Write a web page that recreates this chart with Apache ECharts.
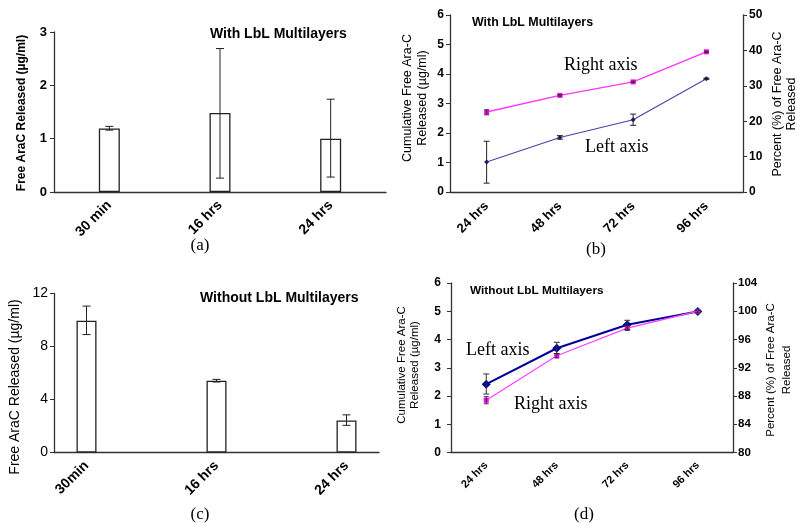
<!DOCTYPE html>
<html>
<head>
<meta charset="utf-8">
<script src="https://cdn.jsdelivr.net/npm/echarts@6/dist/echarts.min.js"></script>
<style>html,body{margin:0;padding:0;background:#fff;}#c{width:797px;height:523px;}</style>
</head>
<body>
<div id="c"></div>
<script>
// ---- Data ----
// Panel (a): with LbL multilayers, free AraC released
var catsA = ['30 min', '16 hrs', '24 hrs'];
var valsA = [1.19, 1.48, 1.00];
var lowA  = [1.16, 0.26, 0.28];
var highA = [1.23, 2.69, 1.74];

// Panel (b): with LbL multilayers, cumulative
var catsB = ['24 hrs', '48 hrs', '72 hrs', '96 hrs'];
var leftB = [1.02, 1.85, 2.45, 3.84];
var leftLowB = [0.30, 1.79, 2.26, 3.82];
var leftHighB = [1.72, 1.91, 2.64, 3.86];
var rightB = [22.6, 27.3, 31.1, 39.6];
var rightLowB = [21.8, 27.1, 30.9, 39.4];
var rightHighB = [23.2, 27.5, 31.3, 39.8];

// Panel (c): without LbL multilayers, free AraC released
var catsC = ['30min', '16 hrs', '24 hrs'];
var valsC = [9.95, 5.42, 2.41];
var lowC  = [8.90, 5.32, 2.05];
var highC = [11.05, 5.52, 2.84];

// Panel (d): without LbL multilayers, cumulative
var catsD = ['24 hrs', '48 hrs', '72 hrs', '96 hrs'];
var leftD = [2.42, 3.69, 4.52, 4.99];
var leftLowD = [2.07, 3.50, 4.36, 4.95];
var leftHighD = [2.78, 3.90, 4.68, 5.03];
var rightD = [87.4, 93.7, 97.6, 100.0];
var rightLowD = [86.9, 93.4, 97.3, 99.8];
var rightHighD = [87.9, 94.0, 97.9, 100.2];

// ---- Layout helpers ----
var AX = '#333';
var SANS = 'Liberation Sans, Arial, sans-serif';
var SERIF = 'Liberation Serif, Times New Roman, serif';

// panel (c) uses a finer category grid so that bars sit where they are in the figure
var slotC = [1, 5, 9];
var padC = [];
for (var i = 0; i < 11; i++) padC.push('');
slotC.forEach(function (s, k) { padC[s] = catsC[k]; });
var barDataC = padC.map(function () { return '-'; });
slotC.forEach(function (s, k) { barDataC[s] = valsC[k]; });

function errSeries(xi, yi, xs, low, high, color, cap) {
  return {
    type: 'custom', xAxisIndex: xi, yAxisIndex: yi, silent: true, z: 5,
    encode: { x: 0, y: [1, 2] },
    data: low.map(function (l, k) { return [xs[k], l, high[k]]; }),
    renderItem: function (params, api) {
      var x = api.value(0);
      var p1 = api.coord([x, api.value(1)]);
      var p2 = api.coord([x, api.value(2)]);
      var st = { stroke: color, lineWidth: 1 };
      return { type: 'group', children: [
        { type: 'line', shape: { x1: p1[0], y1: p1[1], x2: p2[0], y2: p2[1] }, style: st },
        { type: 'line', shape: { x1: p1[0] - cap, y1: p1[1], x2: p1[0] + cap, y2: p1[1] }, style: st },
        { type: 'line', shape: { x1: p2[0] - cap, y1: p2[1], x2: p2[0] + cap, y2: p2[1] }, style: st }
      ]};
    }
  };
}
function idx(n) { var r = []; for (var i = 0; i < n; i++) r.push(i); return r; }

function yAx(grid, min, max, interval, pos, fs, margin, bold) {
  return {
    type: 'value', gridIndex: grid, min: min, max: max, interval: interval, position: pos,
    axisLine: { show: true, lineStyle: { color: AX, width: 1.3 } },
    axisTick: { show: true, inside: false, length: 4, lineStyle: { color: AX, width: 1 } },
    splitLine: { show: false },
    axisLabel: { color: '#000', fontFamily: SANS, fontWeight: bold ? 'bold' : 'normal', fontSize: fs, margin: margin }
  };
}
function xAx(grid, data, fs, margin, gap) {
  return {
    type: 'category', gridIndex: grid, data: data, boundaryGap: gap,
    axisLine: { show: true, lineStyle: { color: AX, width: 1.3 } },
    axisTick: { show: false },
    splitLine: { show: false },
    axisLabel: { color: '#000', fontFamily: SANS, fontWeight: 'bold', fontSize: fs, rotate: 45, margin: margin, interval: 0 }
  };
}
function txt(x, y, text, font, align, rot, lh) {
  return { type: 'text', x: x, y: y, rotation: rot || 0,
    style: { text: text, font: font, fill: '#000', align: align || 'left', verticalAlign: 'middle', lineHeight: lh || undefined } };
}

var option = {
  animation: false,
  backgroundColor: '#fff',
  grid: [
    { left: 54, right: 411, top: 32, bottom: 331 },
    { left: 450, right: 54, top: 15, bottom: 331 },
    { left: 54, right: 418, top: 293.5, bottom: 70.5 },
    { left: 451, right: 64, top: 283, bottom: 70.5 }
  ],
  xAxis: [
    xAx(0, catsA, 14, 11, true),
    xAx(1, catsB, 13, 12, true),
    xAx(2, padC, 14, 11, false),
    xAx(3, catsD, 11, 11, true)
  ],
  yAxis: [
    yAx(0, 0, 3, 1, 'left', 13, 7, true),
    yAx(1, 0, 6, 1, 'left', 12, 6, true),
    yAx(1, 0, 50, 10, 'right', 12, 6, true),
    yAx(2, 0, 12, 4, 'left', 14, 6, false),
    yAx(3, 0, 6, 1, 'left', 12, 10, true),
    yAx(3, 80, 104, 4, 'right', 11.5, 5, true)
  ],
  series: [
    { type: 'bar', xAxisIndex: 0, yAxisIndex: 0, data: valsA, barWidth: 21,
      itemStyle: { color: '#fff', borderColor: '#222', borderWidth: 1.3 } },
    errSeries(0, 0, idx(3), lowA, highA, '#222', 4),

    { type: 'line', xAxisIndex: 1, yAxisIndex: 2, data: rightB, symbol: 'rect', symbolSize: 5,
      lineStyle: { color: '#ff33ff', width: 1.3 }, itemStyle: { color: '#ff00ff' }, z: 3 },
    errSeries(1, 2, idx(4), rightLowB, rightHighB, '#333', 2.5),
    { type: 'line', xAxisIndex: 1, yAxisIndex: 1, data: leftB, symbol: 'diamond', symbolSize: 5,
      lineStyle: { color: '#4444aa', width: 1.1 }, itemStyle: { color: '#1a1a8c' }, z: 3 },
    errSeries(1, 1, idx(4), leftLowB, leftHighB, '#222', 3),

    { type: 'bar', xAxisIndex: 2, yAxisIndex: 3, data: barDataC, barWidth: 20,
      itemStyle: { color: '#fff', borderColor: '#222', borderWidth: 1.3 } },
    errSeries(2, 3, slotC, lowC, highC, '#222', 4),

    { type: 'line', xAxisIndex: 3, yAxisIndex: 5, data: rightD, symbol: 'rect', symbolSize: 5,
      lineStyle: { color: '#ff44ff', width: 1.3 }, itemStyle: { color: '#ff00ff' }, z: 3 },
    errSeries(3, 5, idx(4), rightLowD, rightHighD, '#333', 2.5),
    { type: 'line', xAxisIndex: 3, yAxisIndex: 4, data: leftD, symbol: 'diamond', symbolSize: 9,
      lineStyle: { color: '#000099', width: 2 }, itemStyle: { color: '#000099' }, z: 2 },
    errSeries(3, 4, idx(4), leftLowD, leftHighD, '#333', 3)
  ],
  graphic: [
    // panel (a)
    txt(210, 34, 'With LbL Multilayers', 'bold 14px ' + SANS),
    txt(22, 113, 'Free AraC Released (µg/ml)', 'bold 12px ' + SANS, 'center', Math.PI / 2),
    txt(200, 246, '(a)', '17px ' + SERIF, 'center'),
    // panel (b)
    txt(472, 23, 'With LbL Multilayers', 'bold 12.4px ' + SANS),
    txt(415.5, 98, 'Cumulative Free Ara-C\nReleased (µg/ml)', '12.5px ' + SANS, 'center', Math.PI / 2, 15),
    txt(785, 104, 'Percent (%) of Free Ara-C\nReleased', '12.5px ' + SANS, 'center', Math.PI / 2, 14),
    txt(564, 65, 'Right axis', '18px ' + SERIF),
    txt(585, 147, 'Left axis', '18px ' + SERIF),
    txt(596, 250, '(b)', '17px ' + SERIF, 'center'),
    // panel (c)
    txt(200, 298, 'Without LbL Multilayers', 'bold 14px ' + SANS),
    txt(15, 387, 'Free AraC Released (µg/ml)', '14px ' + SANS, 'center', Math.PI / 2),
    txt(200, 515, '(c)', '17px ' + SERIF, 'center'),
    // panel (d)
    txt(470, 291, 'Without LbL Multilayers', 'bold 11.8px ' + SANS),
    txt(408.5, 365, 'Cumulative Free Ara-C\nReleased (µg/ml)', '11.5px ' + SANS, 'center', Math.PI / 2, 13),
    txt(778.5, 370, 'Percent (%) of Free Ara-C\nReleased', '11.5px ' + SANS, 'center', Math.PI / 2, 16),
    txt(466, 350, 'Left axis', '18px ' + SERIF),
    txt(514, 404, 'Right axis', '18px ' + SERIF),
    txt(584, 515, '(d)', '17px ' + SERIF, 'center')
  ]
};
var chart = echarts.init(document.getElementById('c'), null, { renderer: 'canvas' });
chart.setOption(option);
</script>
</body>
</html>
